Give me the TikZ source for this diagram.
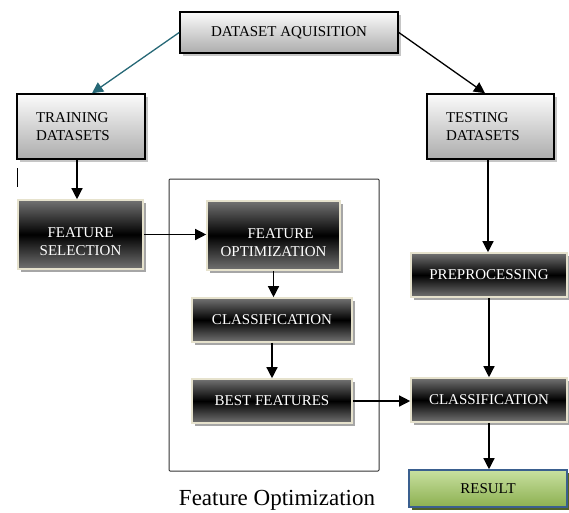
\documentclass[tikz,border=0pt]{standalone}
\usepackage{fontspec}
\setmainfont{Liberation Serif}
\usepackage{xcolor}
\usetikzlibrary{arrows.meta,shapes,positioning,shadows}
\definecolor{tealarrow}{RGB}{38, 104, 118}
\definecolor{creamedge}{RGB}{230, 226, 205}
\definecolor{resultedge}{RGB}{58, 95, 143}
\definecolor{resultshadow}{RGB}{79, 98, 40}
\definecolor{greentop}{RGB}{200, 224, 160}
\definecolor{greenbot}{RGB}{140, 176, 80}

% two lines, set a little below the middle of the box
\newcommand{\lowtext}[2]{\raisebox{-8pt}[\height][\depth]{\begin{tabular}{@{}c@{}}#1\\#2\end{tabular}}}

\tikzset{
  boxtext/.style={font=\fontsize{15}{18}\selectfont},
  graybox/.style={boxtext, draw=black, line width=1.6pt, top color=gray!3, bottom color=gray!65,
    drop shadow={shadow xshift=3pt, shadow yshift=-3pt, fill=gray!45, opacity=1}},
  darkbox/.style={boxtext, text=white, draw=creamedge, line width=1.6pt,
    top color=gray!90!black, bottom color=gray!90!black, middle color=black,
    drop shadow={shadow xshift=3pt, shadow yshift=-3pt, fill=gray!70, opacity=1}},
  greenbox/.style={boxtext, draw=resultedge, line width=1.6pt, top color=greentop, bottom color=greenbot,
    drop shadow={shadow xshift=3pt, shadow yshift=-3pt, fill=resultshadow, opacity=1}},
  arr/.style={-{Triangle[length=11pt,width=11pt]}, line width=1.3pt},
}

\begin{document}
\begin{tikzpicture}[x=1pt, y=-1pt]
            \useasboundingbox (0,0) rectangle (569,512);

            % Feature optimization frame
            \draw[line width=1pt, rounded corners=1pt, draw=black!80] (169,179) rectangle (379,471);
            \node[anchor=base, font=\fontsize{23}{26}\selectfont] (caption) at (277,505) {Feature Optimization};

            % Top row
            \node[graybox, minimum width=218pt, minimum height=41pt] (acq) at (289,32.5) {DATASET AQUISITION};
            \node[graybox, minimum width=128pt, minimum height=65pt, text width=90pt, align=left, inner xsep=0pt] (train) at (81,126.5) {TRAINING\\DATASETS};
            \node[graybox, minimum width=127pt, minimum height=65pt, text width=89pt, align=left, inner xsep=0pt] (test) at (490.5,126.5) {TESTING\\DATASETS};

            % Dark boxes
            \node[darkbox, minimum width=125pt, minimum height=69pt] (fsel) at (80.5,234.5) {\lowtext{FEATURE}{SELECTION}};
            \node[darkbox, minimum width=133pt, minimum height=69pt] (fopt) at (273.5,235.5) {\lowtext{\hspace{14pt}FEATURE}{OPTIMIZATION}};
            \node[darkbox, minimum width=160pt, minimum height=44pt] (cls1) at (272,320) {CLASSIFICATION};
            \node[darkbox, minimum width=160pt, minimum height=44pt] (best) at (272,401) {BEST FEATURES};
            \node[darkbox, minimum width=156pt, minimum height=44pt] (prep) at (489,275) {PREPROCESSING};
            \node[darkbox, minimum width=156pt, minimum height=44pt] (cls2) at (489,400) {CLASSIFICATION};

            % Result
            \node[greenbox, minimum width=158pt, minimum height=37pt] (result) at (488,488.5) {RESULT};

            % stray mark
            \coordinate (mark1) at (17,168);
            \coordinate (mark2) at (17,187);
            \draw[line width=1pt] (mark1) -- (mark2);

            % Connectors
            \draw[arr, tealarrow] (acq.west) -- ([xshift=11pt]train.north);
            \draw[arr] (acq.east) -- ([xshift=-5.5pt]test.north);
            \draw[arr] ([xshift=-4pt]train.south) -- ([xshift=-4pt]train.south |- fsel.north);
            \draw[arr] (fsel.east) -- (fsel.east -| fopt.west);
            \draw[arr] (fopt.south) -- (fopt.south |- cls1.north);
            \draw[arr] (cls1.south) -- (best.north);
            \draw[arr] (best.east) -- (best.east -| cls2.west);
            \draw[arr] ([xshift=-2.5pt]test.south) -- ([xshift=-2.5pt]test.south |- prep.north);
            \draw[arr] (prep.south) -- (cls2.north);
            \draw[arr] (cls2.south) -- (cls2.south |- result.north);
        \end{tikzpicture}
\end{document}
